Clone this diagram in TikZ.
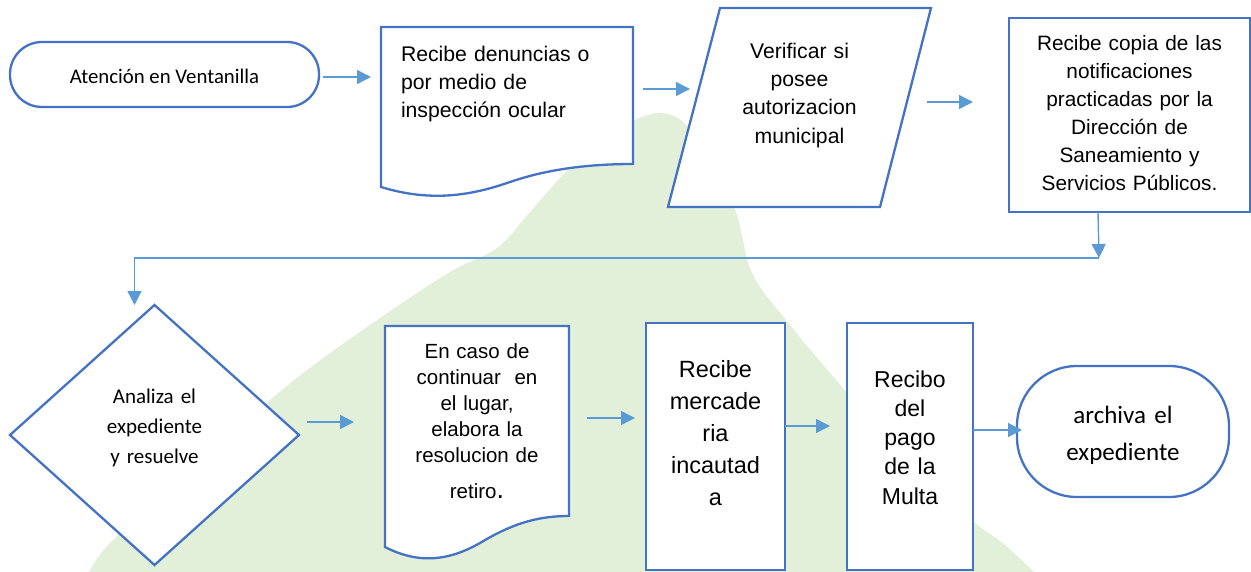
\documentclass[tikz,border=0pt]{standalone}
\usepackage{fontspec}
\newfontfamily\arialf{Liberation Sans}
\newfontfamily\calf{Carlito}
\usetikzlibrary{shapes.geometric,arrows.meta,calc,backgrounds}
\definecolor{bordc}{HTML}{4472C4}
\definecolor{arrc}{HTML}{5B9BD5}
\definecolor{blobc}{HTML}{E2F0D9}
\tikzset{
  shp/.style={draw=none, inner sep=0pt, outer sep=0pt},
  bord/.style={draw=bordc, line width=2.3pt, fill=white, inner sep=0pt, outer sep=0pt},
  outl/.style={draw=bordc, line width=2.3pt, fill=white},
  arr/.style={draw=arrc, line width=1.4pt, -{Triangle[length=14pt,width=14pt]}},
  fa/.style={font=\arialf\fontsize{21.2}{28.4}\selectfont},
}
\begin{document}
\begin{tikzpicture}[x=1pt,y=-1pt]
\useasboundingbox (0,0) rectangle (1251,571);

% ---- nodes ----
\node[bord, rounded corners=32pt, minimum width=309pt, minimum height=65pt,
      text height=41pt, text depth=24pt, font=\calf\fontsize{20.8}{24}\selectfont]
      (atn) at (164.5,74.5) {Atención en Ventanilla};

\node[shp, anchor=north west, text width=212pt, align=left, inner xsep=20pt,
      text height=34pt, text depth=126pt, fa]
      (rd) at (381,27) {Recibe denuncias o\\por medio de\\inspección ocular};

\node[shp, anchor=north, minimum width=263pt, text width=200pt, align=center,
      text height=50pt, text depth=149pt, fa]
      (par) at (799.5,8) {Verificar si\\posee\\autorizacion\\municipal};

\node[bord, anchor=north west, minimum width=241pt, text width=230pt, inner xsep=5.5pt,
      align=center, text height=32pt, text depth=162pt,
      font=\arialf\fontsize{20.8}{28}\selectfont]
      (cop) at (1009,18) {Recibe copia de las\\notificaciones\\practicadas por la\\Dirección de\\Saneamiento y\\Servicios Públicos.};

\node[bord, diamond, minimum width=289pt, minimum height=260pt, text width=120pt,
      align=center, text height=15pt, text depth=79pt,
      font=\calf\fontsize{21}{30}\selectfont]
      (dia) at (154.5,435) {Analiza el\\expediente\\y resuelve};

\node[shp, anchor=north west, text width=176pt, inner xsep=4pt, align=center,
      text height=32pt, text depth=189pt, font=\arialf\fontsize{20.5}{26}\selectfont]
      (doc) at (385,326) {En caso de\\continuar~ en\\el lugar,\\elabora la\\resolucion de\\[10pt]retiro{\fontsize{27}{27}\selectfont.}};

\node[bord, anchor=north west, minimum width=139pt, text width=130pt, inner xsep=4.5pt,
      align=center, text height=54pt, text depth=193pt,
      font=\arialf\fontsize{23.5}{32}\selectfont]
      (bm) at (646,323) {Recibe\\mercade\\ria\\incautad\\a};

\node[bord, anchor=north west, minimum width=126pt, text width=118pt, inner xsep=4pt,
      align=center, text height=64pt, text depth=183pt,
      font=\arialf\fontsize{23}{29.3}\selectfont]
      (bp) at (847,323) {Recibo\\del\\pago\\de la\\Multa};

\node[bord, rounded corners=60pt, anchor=north west, minimum width=212pt, text width=200pt,
      inner xsep=6pt, align=center, text height=57pt, text depth=74pt,
      font=\calf\fontsize{25}{37}\selectfont]
      (arch) at (1017,366) {archiva el\\expediente};

% ---- background: blob and custom outlines ----
\begin{scope}[on background layer]
  \begin{scope}
  \clip (0,0) rectangle (1251,571);
  \fill[blobc] plot[smooth, tension=0.55] coordinates {
    (85,580) (110,543) (200,462) (293,381) (380,318) (450,272) (497,248)
    (530,212) (562,176) (600,140) (635,120) (660,113) (682,121) (705,150)
    (722,185) (737,215) (748,262) (760,287) (782,315) (808,347) (838,382)
    (870,420) (920,475) (975,523) (1005,545) (1048,585)} -- cycle;
  \end{scope}
  \draw[outl] (rd.north west) -- (rd.north east) -- (633,164)
     .. controls (585,164) and (545,170) .. (510,182)
     .. controls (470,196) and (430,202) .. (rd.south west) -- cycle;
  \draw[outl] ($(par.north west)+(52,0)$) -- (par.north east)
     -- ($(par.south east)+(-51,0)$) -- (par.south west) -- cycle;
  \draw[outl] (doc.north west) -- (doc.north east) -- (569,516)
     .. controls (535,516) and (510,525) .. (480,543)
     .. controls (450,560) and (420,565) .. (doc.south west) -- cycle;
\end{scope}

% ---- connectors ----
\draw[arr] ($(atn.east)+(4,2.5)$) -- ($(atn.east -| rd.west)+(-10,2.5)$);
\draw[arr] ($(rd.east)+(10,-18)$) -- ($(rd.east -| par.west)+(22,-18)$);
\draw[arr] ($(par.east)+(-4,-5.5)$) -- ($(par.east -| cop.west)+(-36,-5.5)$);
\coordinate (j) at ($(cop.south)+(-30.5,46)$);
\draw[arr] ($(cop.south)+(-31.5,0)$) -- (j);
\draw[arr] (j) -| ($(dia.north)+(-20,0)$);
\draw[arr] ($(dia.east)+(8,-13)$) -- ($(dia.east -| doc.west)+(-31,-13)$);
\draw[arr] ($(doc.east)+(18,-18.5)$) -- ($(doc.east -| bm.west)+(-11,-18.5)$);
\draw[arr] ($(bm.east)+(0,-20.5)$) -- ($(bm.east -| bp.west)+(-17,-20.5)$);
\draw[arr] ($(bp.east)+(0,-16.5)$) -- ($(bp.east -| arch.west)+(5,-16.5)$);
\end{tikzpicture}
\end{document}
